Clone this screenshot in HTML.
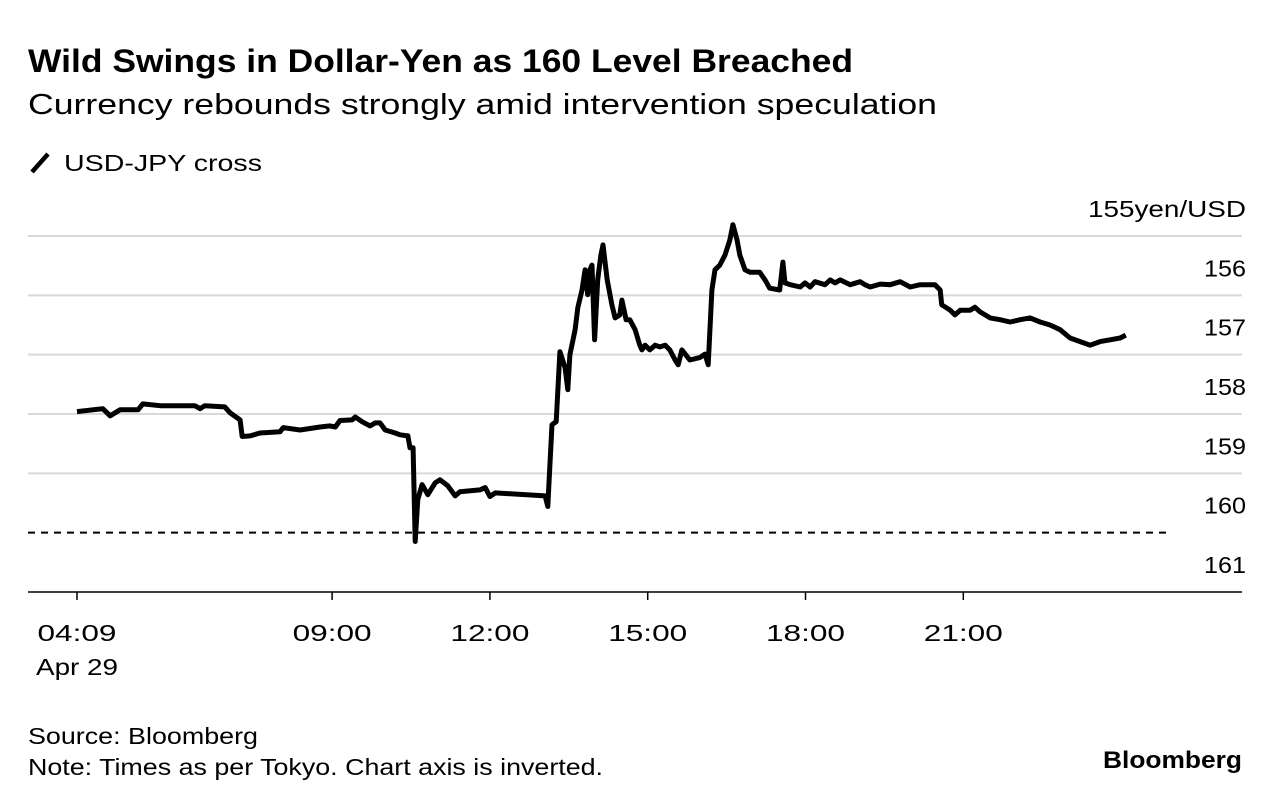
<!DOCTYPE html>
<html><head><meta charset="utf-8"><style>
body{margin:0;background:#fff;width:1280px;height:804px;overflow:hidden;font-family:"Liberation Sans",sans-serif;color:#000}
svg{position:absolute;left:0;top:0}
</style></head><body>
<svg width="1280" height="804" id="c">
<text x="28" y="72" font-size="32" font-weight="bold" textLength="825" lengthAdjust="spacingAndGlyphs">Wild Swings in Dollar-Yen as 160 Level Breached</text>
<text x="28" y="114" font-size="29" textLength="909" lengthAdjust="spacingAndGlyphs">Currency rebounds strongly amid intervention speculation</text>
<line x1="32" y1="172" x2="48" y2="154" stroke="#000" stroke-width="4.5"/>
<text x="64" y="171" font-size="23" textLength="198" lengthAdjust="spacingAndGlyphs">USD-JPY cross</text>
<text x="28" y="744" font-size="23" textLength="230" lengthAdjust="spacingAndGlyphs">Source: Bloomberg</text>
<text x="28" y="775" font-size="23" textLength="575" lengthAdjust="spacingAndGlyphs">Note: Times as per Tokyo. Chart axis is inverted.</text>
<text x="1103" y="768" font-size="24" font-weight="bold" textLength="139" lengthAdjust="spacingAndGlyphs">Bloomberg</text>
<g id="grid"></g><g id="line"></g><g id="xt"></g>
</svg>
<script>
const hours=[4.15,4.64,4.78,4.97,5.31,5.40,5.73,6.39,6.49,6.58,6.96,7.06,7.25,7.29,7.44,7.63,8.01,8.07,8.39,8.77,8.96,9.06,9.15,9.38,9.44,9.57,9.72,9.82,9.91,10.01,10.20,10.29,10.44,10.48,10.54,10.58,10.63,10.71,10.82,10.96,11.05,11.20,11.34,11.43,11.81,11.91,12.00,12.10,13.05,13.10,13.14,13.18,13.26,13.33,13.43,13.48,13.52,13.62,13.67,13.75,13.81,13.86,13.90,13.94,13.99,14.05,14.11,14.15,14.23,14.32,14.38,14.47,14.51,14.59,14.66,14.76,14.85,14.89,14.95,15.04,15.14,15.23,15.33,15.42,15.52,15.58,15.65,15.80,15.99,16.09,16.15,16.22,16.28,16.37,16.47,16.56,16.62,16.70,16.75,16.85,16.94,17.13,17.23,17.32,17.51,17.57,17.61,17.71,17.90,17.99,18.09,18.18,18.37,18.47,18.56,18.66,18.85,19.04,19.13,19.23,19.42,19.61,19.80,19.99,20.18,20.46,20.56,20.59,20.75,20.84,20.94,21.13,21.22,21.32,21.51,21.70,21.89,22.08,22.27,22.46,22.65,22.84,23.03,23.22,23.41,23.60,23.79,23.98,24.09];
const values=[157.96,157.91,158.03,157.93,157.93,157.83,157.86,157.86,157.91,157.86,157.88,157.98,158.10,158.38,158.37,158.32,158.30,158.23,158.27,158.22,158.20,158.22,158.11,158.10,158.05,158.13,158.20,158.15,158.15,158.27,158.32,158.35,158.37,158.57,158.57,160.15,159.44,159.19,159.36,159.16,159.11,159.21,159.38,159.31,159.28,159.24,159.39,159.33,159.38,159.56,158.86,158.18,158.13,156.95,157.22,157.59,157.00,156.58,156.21,155.91,155.57,155.99,155.57,155.49,156.75,155.74,155.32,155.15,155.74,156.16,156.38,156.33,156.08,156.41,156.41,156.58,156.84,156.92,156.84,156.92,156.84,156.87,156.84,156.92,157.09,157.17,156.92,157.09,157.05,156.99,157.17,155.91,155.57,155.49,155.32,155.07,154.81,155.07,155.32,155.57,155.61,155.61,155.74,155.88,155.91,155.44,155.79,155.82,155.86,155.79,155.86,155.77,155.82,155.74,155.79,155.74,155.82,155.77,155.82,155.86,155.81,155.82,155.77,155.86,155.82,155.82,155.91,156.16,156.25,156.33,156.25,156.25,156.20,156.28,156.38,156.41,156.45,156.41,156.38,156.45,156.50,156.58,156.72,156.78,156.84,156.78,156.75,156.72,156.67];
const yTicks=[155,156,157,158,159,160,161];
const xTickHours=[4.15,9,12,15,18,21];
const xTickLabels=["04:09","09:00","12:00","15:00","18:00","21:00"];
const NS="http://www.w3.org/2000/svg";
const X=h=>77+(h-4.15)*52.6;
const Y=v=>236+(v-155)*59.33;
function mk(t,a,p){const e=document.createElementNS(NS,t);for(const k in a)e.setAttribute(k,a[k]);p.appendChild(e);return e;}
const g=document.getElementById('grid');
yTicks.forEach((v,i)=>{
  const y=Y(v);
  let l;
  if(v===161){l=mk('line',{x1:28,x2:1242,y1:y,y2:y,stroke:'#000','stroke-width':1.5},g);}
  else if(v===160){l=mk('line',{x1:28,x2:1172,y1:y,y2:y,stroke:'#000','stroke-width':2,'stroke-dasharray':'7,6'},g);}
  else{l=mk('line',{x1:28,x2:1242,y1:y,y2:y,stroke:'#d9d9d9','stroke-width':2},g);}
  
  
  const t=mk('text',{x:1246,y:y-19,'font-size':23,'text-anchor':'end',textLength:i===0?158:42,lengthAdjust:'spacingAndGlyphs'},g);
  t.textContent=i===0?'155yen/USD':String(v);
  
  
});
const xt=document.getElementById('xt');
xTickHours.forEach((h,i)=>{
  const x=X(h);
  const tk=mk('line',{x1:x,x2:x,y1:592,y2:600,stroke:'#000','stroke-width':1.5},xt);
  
  
  const t=mk('text',{x:x,y:641,'font-size':23,'text-anchor':'middle',textLength:79,lengthAdjust:'spacingAndGlyphs'},xt);
  t.textContent=xTickLabels[i];
  
  
});
const d=mk('text',{x:X(4.15),y:675,'font-size':23,'text-anchor':'middle',textLength:82,lengthAdjust:'spacingAndGlyphs'},xt);
d.textContent='Apr 29';


const p=mk('path',{d:hours.map((h,i)=>(i?'L':'M')+X(h).toFixed(1)+','+Y(values[i]).toFixed(1)).join(''),fill:'none',stroke:'#000','stroke-width':5,'stroke-linejoin':'round'},document.getElementById('line'));


</script>
</body></html>
